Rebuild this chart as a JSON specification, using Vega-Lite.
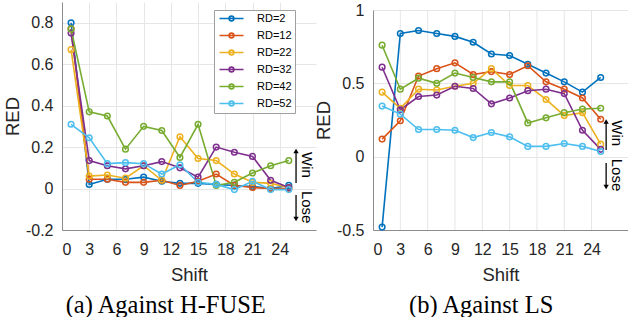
{
  "$schema": "https://vega.github.io/schema/vega-lite/v6.json",
  "padding": {"left": 3, "top": 2, "right": 0, "bottom": 0},
  "config": {
    "view": {"stroke": null},
    "font": "Liberation Sans",
    "axis": {"labelFont": "Liberation Sans", "labelFontSize": 16, "labelColor": "#262626", "labelOverlap": false, "labelBound": false, "titleFont": "Liberation Sans", "titleFontSize": 18.5, "titleFontWeight": "normal", "titleColor": "#262626", "domainColor": "#8c8c8c", "gridColor": "#e6e6e6", "ticks": false, "tickCount": 20},
    "title": {"font": "Liberation Serif", "fontSize": 24.5, "fontWeight": "normal", "color": "black"},
    "concat": {"spacing": -2}
  },
  "datasets": {
    "left": [
      {"s":1,"v":0.80,"rd":"RD=2"},{"s":3,"v":0.02,"rd":"RD=2"},{"s":5,"v":0.045,"rd":"RD=2"},{"s":7,"v":0.045,"rd":"RD=2"},{"s":9,"v":0.055,"rd":"RD=2"},{"s":11,"v":0.035,"rd":"RD=2"},{"s":13,"v":0.025,"rd":"RD=2"},{"s":15,"v":0.025,"rd":"RD=2"},{"s":17,"v":0.02,"rd":"RD=2"},{"s":19,"v":0.015,"rd":"RD=2"},{"s":21,"v":0.01,"rd":"RD=2"},{"s":23,"v":0.0,"rd":"RD=2"},{"s":25,"v":0.015,"rd":"RD=2"},
      {"s":1,"v":0.77,"rd":"RD=12"},{"s":3,"v":0.045,"rd":"RD=12"},{"s":5,"v":0.045,"rd":"RD=12"},{"s":7,"v":0.03,"rd":"RD=12"},{"s":9,"v":0.03,"rd":"RD=12"},{"s":11,"v":0.04,"rd":"RD=12"},{"s":13,"v":0.015,"rd":"RD=12"},{"s":15,"v":0.035,"rd":"RD=12"},{"s":17,"v":0.07,"rd":"RD=12"},{"s":19,"v":0.015,"rd":"RD=12"},{"s":21,"v":0.005,"rd":"RD=12"},{"s":23,"v":0.0,"rd":"RD=12"},{"s":25,"v":0.0,"rd":"RD=12"},
      {"s":1,"v":0.67,"rd":"RD=22"},{"s":3,"v":0.06,"rd":"RD=22"},{"s":5,"v":0.065,"rd":"RD=22"},{"s":7,"v":0.05,"rd":"RD=22"},{"s":9,"v":0.11,"rd":"RD=22"},{"s":11,"v":0.04,"rd":"RD=22"},{"s":13,"v":0.25,"rd":"RD=22"},{"s":15,"v":0.145,"rd":"RD=22"},{"s":17,"v":0.135,"rd":"RD=22"},{"s":19,"v":0.07,"rd":"RD=22"},{"s":21,"v":0.03,"rd":"RD=22"},{"s":23,"v":0.025,"rd":"RD=22"},{"s":25,"v":0.005,"rd":"RD=22"},
      {"s":1,"v":0.75,"rd":"RD=32"},{"s":3,"v":0.135,"rd":"RD=32"},{"s":5,"v":0.11,"rd":"RD=32"},{"s":7,"v":0.095,"rd":"RD=32"},{"s":9,"v":0.11,"rd":"RD=32"},{"s":11,"v":0.13,"rd":"RD=32"},{"s":13,"v":0.10,"rd":"RD=32"},{"s":15,"v":0.055,"rd":"RD=32"},{"s":17,"v":0.20,"rd":"RD=32"},{"s":19,"v":0.175,"rd":"RD=32"},{"s":21,"v":0.155,"rd":"RD=32"},{"s":23,"v":0.04,"rd":"RD=32"},{"s":25,"v":0.005,"rd":"RD=32"},
      {"s":1,"v":0.77,"rd":"RD=42"},{"s":3,"v":0.37,"rd":"RD=42"},{"s":5,"v":0.35,"rd":"RD=42"},{"s":7,"v":0.19,"rd":"RD=42"},{"s":9,"v":0.30,"rd":"RD=42"},{"s":11,"v":0.28,"rd":"RD=42"},{"s":13,"v":0.15,"rd":"RD=42"},{"s":15,"v":0.31,"rd":"RD=42"},{"s":17,"v":0.015,"rd":"RD=42"},{"s":19,"v":0.03,"rd":"RD=42"},{"s":21,"v":0.075,"rd":"RD=42"},{"s":23,"v":0.11,"rd":"RD=42"},{"s":25,"v":0.135,"rd":"RD=42"},
      {"s":1,"v":0.31,"rd":"RD=52"},{"s":3,"v":0.245,"rd":"RD=52"},{"s":5,"v":0.12,"rd":"RD=52"},{"s":7,"v":0.125,"rd":"RD=52"},{"s":9,"v":0.12,"rd":"RD=52"},{"s":11,"v":0.07,"rd":"RD=52"},{"s":13,"v":0.115,"rd":"RD=52"},{"s":15,"v":0.03,"rd":"RD=52"},{"s":17,"v":0.02,"rd":"RD=52"},{"s":19,"v":-0.005,"rd":"RD=52"},{"s":21,"v":0.035,"rd":"RD=52"},{"s":23,"v":-0.005,"rd":"RD=52"},{"s":25,"v":-0.005,"rd":"RD=52"}
    ],
    "right": [
      {"s":1,"v":-0.48,"rd":"RD=2"},{"s":3,"v":0.84,"rd":"RD=2"},{"s":5,"v":0.86,"rd":"RD=2"},{"s":7,"v":0.84,"rd":"RD=2"},{"s":9,"v":0.82,"rd":"RD=2"},{"s":11,"v":0.78,"rd":"RD=2"},{"s":13,"v":0.70,"rd":"RD=2"},{"s":15,"v":0.69,"rd":"RD=2"},{"s":17,"v":0.63,"rd":"RD=2"},{"s":19,"v":0.57,"rd":"RD=2"},{"s":21,"v":0.51,"rd":"RD=2"},{"s":23,"v":0.44,"rd":"RD=2"},{"s":25,"v":0.54,"rd":"RD=2"},
      {"s":1,"v":0.12,"rd":"RD=12"},{"s":3,"v":0.245,"rd":"RD=12"},{"s":5,"v":0.55,"rd":"RD=12"},{"s":7,"v":0.60,"rd":"RD=12"},{"s":9,"v":0.64,"rd":"RD=12"},{"s":11,"v":0.56,"rd":"RD=12"},{"s":13,"v":0.58,"rd":"RD=12"},{"s":15,"v":0.56,"rd":"RD=12"},{"s":17,"v":0.62,"rd":"RD=12"},{"s":19,"v":0.51,"rd":"RD=12"},{"s":21,"v":0.46,"rd":"RD=12"},{"s":23,"v":0.40,"rd":"RD=12"},{"s":25,"v":0.255,"rd":"RD=12"},
      {"s":1,"v":0.44,"rd":"RD=22"},{"s":3,"v":0.33,"rd":"RD=22"},{"s":5,"v":0.46,"rd":"RD=22"},{"s":7,"v":0.455,"rd":"RD=22"},{"s":9,"v":0.48,"rd":"RD=22"},{"s":11,"v":0.50,"rd":"RD=22"},{"s":13,"v":0.60,"rd":"RD=22"},{"s":15,"v":0.485,"rd":"RD=22"},{"s":17,"v":0.485,"rd":"RD=22"},{"s":19,"v":0.39,"rd":"RD=22"},{"s":21,"v":0.28,"rd":"RD=22"},{"s":23,"v":0.30,"rd":"RD=22"},{"s":25,"v":0.085,"rd":"RD=22"},
      {"s":1,"v":0.61,"rd":"RD=32"},{"s":3,"v":0.32,"rd":"RD=32"},{"s":5,"v":0.41,"rd":"RD=32"},{"s":7,"v":0.42,"rd":"RD=32"},{"s":9,"v":0.48,"rd":"RD=32"},{"s":11,"v":0.465,"rd":"RD=32"},{"s":13,"v":0.36,"rd":"RD=32"},{"s":15,"v":0.40,"rd":"RD=32"},{"s":17,"v":0.45,"rd":"RD=32"},{"s":19,"v":0.46,"rd":"RD=32"},{"s":21,"v":0.43,"rd":"RD=32"},{"s":23,"v":0.18,"rd":"RD=32"},{"s":25,"v":0.05,"rd":"RD=32"},
      {"s":1,"v":0.76,"rd":"RD=42"},{"s":3,"v":0.46,"rd":"RD=42"},{"s":5,"v":0.535,"rd":"RD=42"},{"s":7,"v":0.50,"rd":"RD=42"},{"s":9,"v":0.57,"rd":"RD=42"},{"s":11,"v":0.54,"rd":"RD=42"},{"s":13,"v":0.51,"rd":"RD=42"},{"s":15,"v":0.51,"rd":"RD=42"},{"s":17,"v":0.23,"rd":"RD=42"},{"s":19,"v":0.265,"rd":"RD=42"},{"s":21,"v":0.30,"rd":"RD=42"},{"s":23,"v":0.325,"rd":"RD=42"},{"s":25,"v":0.33,"rd":"RD=42"},
      {"s":1,"v":0.345,"rd":"RD=52"},{"s":3,"v":0.29,"rd":"RD=52"},{"s":5,"v":0.185,"rd":"RD=52"},{"s":7,"v":0.185,"rd":"RD=52"},{"s":9,"v":0.18,"rd":"RD=52"},{"s":11,"v":0.13,"rd":"RD=52"},{"s":13,"v":0.165,"rd":"RD=52"},{"s":15,"v":0.135,"rd":"RD=52"},{"s":17,"v":0.07,"rd":"RD=52"},{"s":19,"v":0.07,"rd":"RD=52"},{"s":21,"v":0.09,"rd":"RD=52"},{"s":23,"v":0.07,"rd":"RD=52"},{"s":25,"v":0.035,"rd":"RD=52"}
    ],
    "arrL": [{"x":25.8,"y":0.027,"y2":0.181},{"x":25.8,"y":-0.031,"y2":-0.147}],
    "headL": [{"x":25.8,"y":0.181,"dir":"up"},{"x":25.8,"y":-0.147,"dir":"down"}],
    "textL": [{"x":27.0,"y":0.114,"t":"Win"},{"x":27.0,"y":-0.09,"t":"Lose"}],
    "arrR": [{"x":25.6,"y":0.046,"y2":0.24},{"x":25.6,"y":-0.043,"y2":-0.207}],
    "headR": [{"x":25.6,"y":0.24,"dir":"up"},{"x":25.6,"y":-0.207,"dir":"down"}],
    "textR": [{"x":26.8,"y":0.16,"t":"Win"},{"x":26.8,"y":-0.125,"t":"Lose"}],
    "gridR": [{"x":3},{"x":6},{"x":9},{"x":12},{"x":15},{"x":18},{"x":21},{"x":24}]
  },
  "hconcat": [
    {
      "width": 254,
      "height": 228,
      "title": {"text": "(a) Against H-FUSE", "orient": "bottom", "frame": "bounds", "anchor": "middle", "offset": 10, "dx": 6},
      "layer": [
        {"mark": {"type": "rule", "color": "black", "strokeDash": [6, 4], "strokeWidth": 1.4}, "encoding": {"y": {"datum": 0, "type": "quantitative", "scale": {"domain": [-0.2, 0.9], "nice": false}}}},
        {
          "data": {"name": "left"},
          "mark": {"type": "line", "strokeWidth": 1.6, "point": {"filled": false, "size": 32, "strokeWidth": 1.5}},
          "encoding": {
            "x": {"field": "s", "type": "quantitative", "scale": {"domain": [0, 28], "nice": false}, "axis": {"title": "Shift", "values": [0,3,6,9,12,15,18,21,24], "tickCount": 20, "labelOverlap": false, "labelPadding": 11, "titlePadding": 8, "grid": true}},
            "y": {"field": "v", "type": "quantitative", "scale": {"domain": [-0.2, 0.9], "nice": false}, "axis": {"title": "RED", "values": [-0.2,0,0.2,0.4,0.6,0.8], "tickCount": 20, "labelOverlap": false, "labelExpr": "replace(format(datum.value,'~g'),'\u2212','-')", "labelPadding": 9, "titlePadding": 3, "grid": true}},
            "color": {"field": "rd", "type": "nominal", "scale": {"domain": ["RD=2","RD=12","RD=22","RD=32","RD=42","RD=52"], "range": ["#0072BD","#D95319","#EDB120","#7E2F8E","#77AC30","#4DBEEE"]},
              "legend": {"title": null, "orient": "none", "legendX": 152, "legendY": 8, "symbolType": "M-3,0H3M0.6,0A0.6,0.6 0 1 1 -0.6,0A0.6,0.6 0 1 1 0.6,0", "symbolSize": 64, "symbolStrokeWidth": 1.6, "symbolFillColor": "transparent", "symbolOffset": 9, "labelOffset": 20, "labelFontSize": 11, "labelColor": "black", "rowPadding": 4, "padding": 3, "strokeColor": "#a0a0a0", "fillColor": "white", "cornerRadius": 0}}
          }
        },
        {"data": {"name": "arrL"}, "mark": {"type": "rule", "color": "black", "strokeWidth": 1.3}, "encoding": {"x": {"field": "x", "type": "quantitative", "title": "Shift"}, "y": {"field": "y", "type": "quantitative", "title": "RED"}, "y2": {"field": "y2"}}},
        {"data": {"name": "headL"}, "mark": {"type": "point", "filled": true, "color": "black", "size": 28, "opacity": 1}, "encoding": {"x": {"field": "x", "type": "quantitative", "title": "Shift"}, "y": {"field": "y", "type": "quantitative", "title": "RED"}, "shape": {"field": "dir", "type": "nominal", "scale": {"domain": ["up","down"], "range": ["triangle-up","triangle-down"]}, "legend": null}}},
        {"data": {"name": "textL"}, "mark": {"type": "text", "angle": 90, "fontSize": 15, "font": "Liberation Sans", "color": "black", "align": "center", "baseline": "middle"}, "encoding": {"x": {"field": "x", "type": "quantitative", "title": "Shift"}, "y": {"field": "y", "type": "quantitative", "title": "RED"}, "text": {"field": "t"}}}
      ]
    },
    {
      "width": 255,
      "height": 228,
      "title": {"text": "(b) Against LS", "orient": "bottom", "frame": "bounds", "anchor": "middle", "offset": 10, "dx": 10},
      "layer": [
        {"data": {"name": "gridR"}, "mark": {"type": "rule", "color": "#e6e6e6", "strokeWidth": 1}, "encoding": {"x": {"field": "x", "type": "quantitative", "title": "Shift"}, "y": {"datum": -0.5}, "y2": {"datum": 1}}},
        {"mark": {"type": "rule", "color": "black", "strokeDash": [6, 4], "strokeWidth": 1.4}, "encoding": {"y": {"datum": 0, "type": "quantitative"}}},
        {
          "data": {"name": "right"},
          "mark": {"type": "line", "strokeWidth": 1.6, "point": {"filled": false, "size": 32, "strokeWidth": 1.5}},
          "encoding": {
            "x": {"field": "s", "type": "quantitative", "scale": {"domain": [0, 28], "nice": false}, "axis": {"title": "Shift", "values": [0,3,6,9,12,15,18,21,24], "tickCount": 20, "labelOverlap": false, "labelPadding": 11, "titlePadding": 8, "grid": false}},
            "y": {"field": "v", "type": "quantitative", "scale": {"domain": [-0.5, 1], "nice": false, "range": [228, 8]}, "axis": {"title": "RED", "values": [-0.5,0,0.5,1], "tickCount": 20, "labelOverlap": false, "labelExpr": "replace(format(datum.value,'~g'),'\u2212','-')", "labelPadding": 9, "titlePadding": 3, "grid": true}},
            "color": {"field": "rd", "type": "nominal", "scale": {"domain": ["RD=2","RD=12","RD=22","RD=32","RD=42","RD=52"], "range": ["#0072BD","#D95319","#EDB120","#7E2F8E","#77AC30","#4DBEEE"]},
              "legend": {"title": null, "orient": "none", "legendX": 185, "legendY": -2, "symbolType": "M-3,0H3M0.6,0A0.6,0.6 0 1 1 -0.6,0A0.6,0.6 0 1 1 0.6,0", "symbolSize": 36, "symbolStrokeWidth": 1.5, "symbolFillColor": "transparent", "symbolOffset": 7, "labelOffset": 15, "labelFontSize": 10, "labelColor": "black", "rowPadding": 2.5, "padding": 2, "strokeColor": "#a0a0a0", "fillColor": "white", "cornerRadius": 0}}
          }
        },
        {"data": {"name": "arrR"}, "mark": {"type": "rule", "color": "black", "strokeWidth": 1.3}, "encoding": {"x": {"field": "x", "type": "quantitative", "title": "Shift"}, "y": {"field": "y", "type": "quantitative", "title": "RED"}, "y2": {"field": "y2"}}},
        {"data": {"name": "headR"}, "mark": {"type": "point", "filled": true, "color": "black", "size": 28, "opacity": 1}, "encoding": {"x": {"field": "x", "type": "quantitative", "title": "Shift"}, "y": {"field": "y", "type": "quantitative", "title": "RED"}, "shape": {"field": "dir", "type": "nominal", "scale": {"domain": ["up","down"], "range": ["triangle-up","triangle-down"]}, "legend": null}}},
        {"data": {"name": "textR"}, "mark": {"type": "text", "angle": 90, "fontSize": 15, "font": "Liberation Sans", "color": "black", "align": "center", "baseline": "middle"}, "encoding": {"x": {"field": "x", "type": "quantitative", "title": "Shift"}, "y": {"field": "y", "type": "quantitative", "title": "RED"}, "text": {"field": "t"}}}
      ]
    }
  ]
}
